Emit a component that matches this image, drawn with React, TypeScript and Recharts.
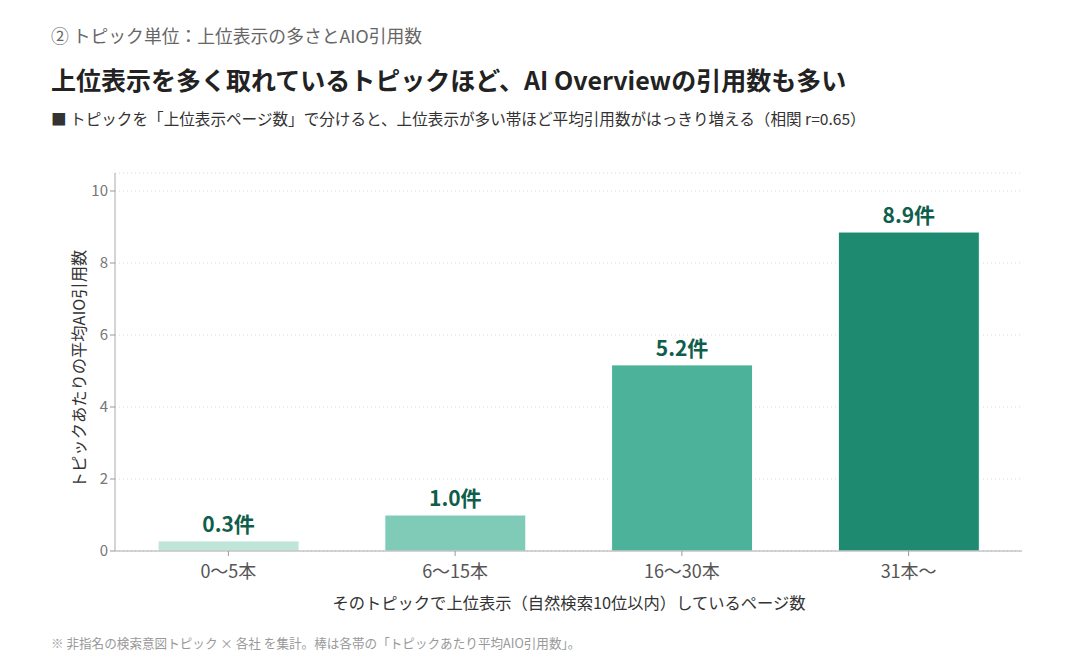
import React from 'react';
import { BarChart, Bar, XAxis, YAxis, CartesianGrid, Cell, LabelList } from 'recharts';

const categories = ['0〜5本', '6〜15本', '16〜30本', '31本〜'];
const avgCitations = [0.28, 1.0, 5.17, 8.86];
const labels = ['0.3件', '1.0件', '5.2件', '8.9件'];
const barColors = ['#bfe5d8', '#7fcbb8', '#4db29a', '#1e8a70'];
const yTicks = [0, 2, 4, 6, 8, 10];

const data = categories.map((c, i) => ({ name: c, value: avgCitations[i], label: labels[i] }));

const FONT = '"Noto Sans CJK JP", "Noto Sans", sans-serif';

export default function App() {
  return (
    <div style={{ position: 'absolute', left: 0, top: 0, width: 1078, height: 658, background: '#fff', fontFamily: FONT }}>
      <div style={{ position: 'absolute', left: 51, top: 22, fontSize: 17.8, color: '#666', whiteSpace: 'nowrap' }}>
        ② トピック単位：上位表示の多さとAIO引用数
      </div>
      <div style={{ position: 'absolute', left: 51, top: 61, fontSize: 25, fontWeight: 700, color: '#222', whiteSpace: 'nowrap' }}>
        上位表示を多く取れているトピックほど、AI Overviewの引用数も多い
      </div>
      <div style={{ position: 'absolute', left: 51, top: 107, fontSize: 15.6, color: '#333', whiteSpace: 'nowrap' }}>
        ■ トピックを「上位表示ページ数」で分けると、上位表示が多い帯ほど平均引用数がはっきり増える（相関 r=0.65）
      </div>
      <div style={{ position: 'absolute', left: 0, top: 0 }}>
        <BarChart
          width={1078}
          height={658}
          data={data}
          margin={{ top: 173, right: 56, bottom: 77, left: 55 }}
          barCategoryGap="19%"
        >
          <CartesianGrid vertical={false} stroke="#d8d8d8" strokeDasharray="1 3" />
          <XAxis
            dataKey="name"
            height={30}
            tick={{ fontSize: 18, fill: '#555', fontFamily: FONT }}
            tickLine={{ stroke: '#999' }}
            tickSize={5}
            tickMargin={9}
            axisLine={{ stroke: '#aaa' }}
          />
          <YAxis
            width={60}
            domain={[0, 10.5]}
            ticks={yTicks}
            tick={{ fontSize: 15, fill: '#777', fontFamily: FONT }}
            tickLine={{ stroke: '#999' }}
            tickSize={5}
            axisLine={{ stroke: '#aaa' }}
          />
          <Bar dataKey="value" isAnimationActive={false} stroke="#ffffff" strokeWidth={1}>
            {data.map((d, i) => (
              <Cell key={d.name} fill={barColors[i]} />
            ))}
            <LabelList
              dataKey="label"
              position="top"
              offset={9}
              style={{ fontSize: 21, fontWeight: 700, fill: '#0f5e4b', fontFamily: FONT }}
            />
          </Bar>
        </BarChart>
      </div>
      <div
        style={{
          position: 'absolute',
          left: 78,
          top: 369,
          transform: 'translate(-50%, -50%) rotate(-90deg)',
          fontSize: 16.3,
          color: '#333',
          whiteSpace: 'nowrap',
        }}
      >
        トピックあたりの平均AIO引用数
      </div>
      <div
        style={{
          position: 'absolute',
          left: 569,
          top: 602,
          transform: 'translate(-50%, -50%)',
          fontSize: 16.3,
          color: '#333',
          whiteSpace: 'nowrap',
        }}
      >
        そのトピックで上位表示（自然検索10位以内）しているページ数
      </div>
      <div style={{ position: 'absolute', left: 51, top: 633, fontSize: 12.6, color: '#999', whiteSpace: 'nowrap' }}>
        ※ 非指名の検索意図トピック × 各社 を集計。棒は各帯の「トピックあたり平均AIO引用数」。
      </div>
    </div>
  );
}
